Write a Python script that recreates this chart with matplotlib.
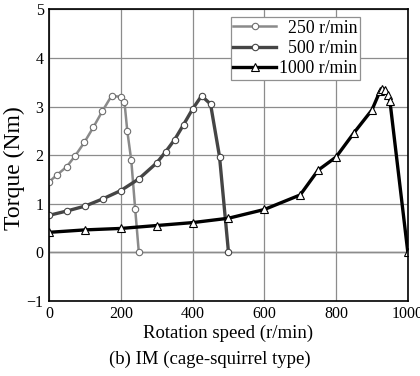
import matplotlib.pyplot as plt

plt.rcParams['font.family'] = ['Liberation Serif', 'DejaVu Serif']

# 250 r/min
x250 = [0, 23, 49, 73, 98, 123, 148, 174, 199, 210, 218, 229, 240, 250]
y250 = [1.45, 1.60, 1.76, 1.99, 2.26, 2.57, 2.90, 3.22, 3.20, 3.09, 2.49, 1.89, 0.88, 0.0]

# 500 r/min
x500 = [0, 50, 100, 150, 200, 250, 300, 325, 350, 375, 400, 425, 450, 475, 500]
y500 = [0.76, 0.85, 0.95, 1.10, 1.27, 1.51, 1.84, 2.07, 2.32, 2.63, 2.95, 3.22, 3.05, 1.97, 0.0]

# 1000 r/min
x1000 = [0, 100, 200, 300, 400, 500, 600, 700, 750, 800, 850, 900, 922, 929, 937, 944, 950, 1000]
y1000 = [0.41, 0.46, 0.49, 0.55, 0.61, 0.70, 0.88, 1.18, 1.69, 1.96, 2.46, 2.93, 3.31, 3.36, 3.35, 3.24, 3.12, 0.0]

# labels are right aligned in the legend, pad the short ones
labels = ['  250 r/min', '  500 r/min', '1000 r/min']

fig = plt.figure(figsize=(4.2, 3.76), dpi=100)
ax = fig.add_axes([0.117, 0.2, 0.854, 0.775])

ax.plot(x250, y250, color='#8a8a8a', lw=1.8, marker='o', ms=4.6,
        mfc='white', mec='#6e6e6e', mew=0.8, label=labels[0])
ax.plot(x500, y500, color='#454545', lw=2.4, marker='o', ms=4.6,
        mfc='white', mec='#454545', mew=0.8, label=labels[1])
ax.plot(x1000, y1000, color='black', lw=2.4, marker='^', ms=5.8,
        mfc='white', mec='black', mew=0.8, label=labels[2])

ax.set_xlim(0, 1000)
ax.set_ylim(-1, 5)
ax.set_xticks(range(0, 1001, 200))
ax.set_yticks(range(-1, 6))
ax.grid(True, color='#8c8c8c', lw=0.9)
ax.axhline(0, color='#505050', lw=1.0, zorder=1)
ax.tick_params(length=0, labelsize=11.5, pad=4)
for s in ax.spines.values():
    s.set_linewidth(1.2)
    s.set_color('black')

ax.set_xlabel('Rotation speed (r/min)', fontsize=13.5, labelpad=2)
ax.set_ylabel('Torque (Nm)', fontsize=17)
ax.yaxis.set_label_coords(-0.067, 0.456)

leg = ax.legend(loc='upper right', bbox_to_anchor=(0.866, 0.974), fontsize=12.8,
                frameon=True, fancybox=False, edgecolor='#909090', framealpha=1,
                handlelength=2.4, handletextpad=0.15, borderpad=0.15,
                labelspacing=0.18, borderaxespad=0)
leg.get_frame().set_linewidth(0.9)

fig.text(0.5, 0.022, '(b) IM (cage-squirrel type)', ha='center', va='bottom', fontsize=13.5)

fig.savefig('out.png', dpi=100)
